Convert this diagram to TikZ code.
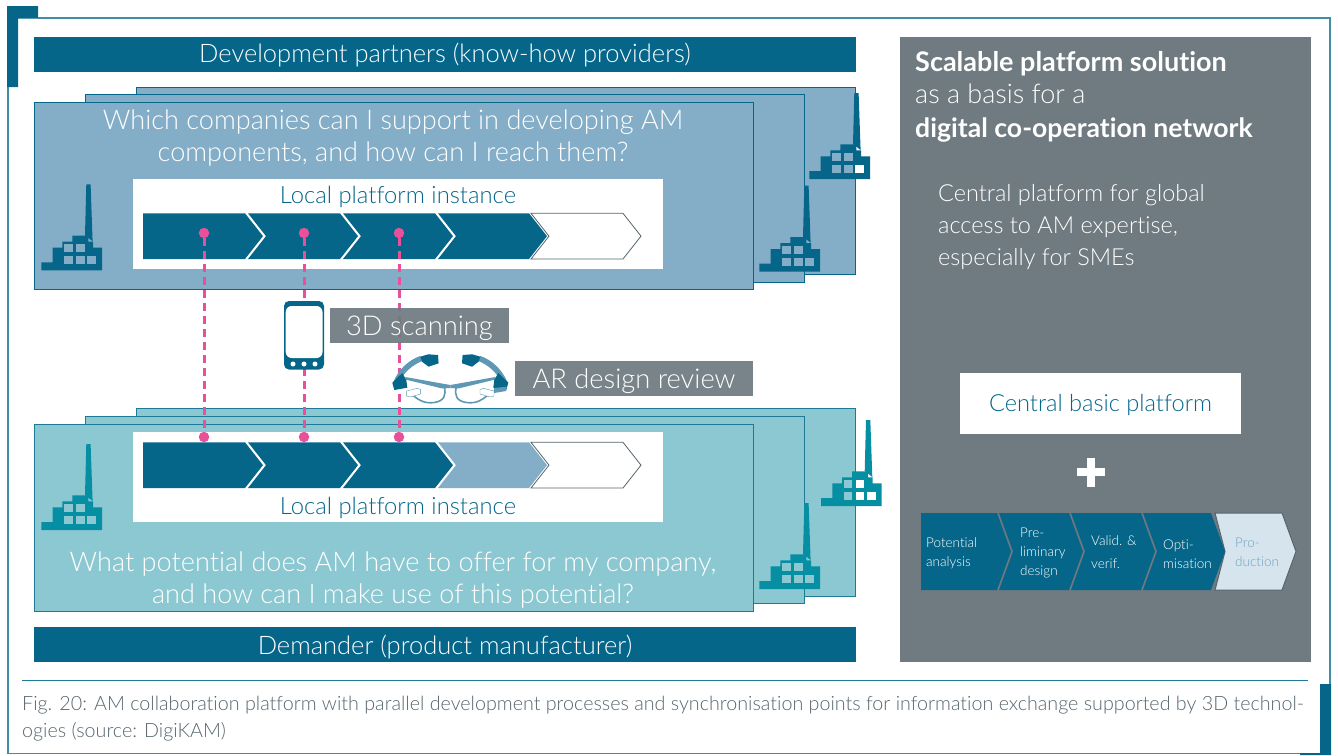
\documentclass[tikz,border=0pt]{standalone}
\usepackage{fontspec}
\setmainfont{Lato}[UprightFont=* Light, BoldFont=* Bold, Ligatures=NoCommon]
\usetikzlibrary{positioning}

\definecolor{darkblue}{HTML}{05668A}
\definecolor{lightblue}{HTML}{84AEC8}
\definecolor{paleblue}{HTML}{D6E4EE}
\definecolor{lightteal}{HTML}{8CC8D2}
\definecolor{darkteal}{HTML}{068EA3}
\definecolor{edgeteal}{HTML}{1E7A96}
\definecolor{panelgray}{HTML}{6F7A81}
\definecolor{syncpink}{HTML}{E9509A}
\definecolor{captiongray}{HTML}{56656D}

\newcommand{\chevrow}[4]{
  \foreach \xa/\xb/\nd/\sty in {#4} {
    \path[\sty] (\xa,#1) -- ({\xb-#3},#1) -- (\xb,{(#1+#2)/2}) -- ({\xb-#3},#2) -- (\xa,#2) -- ({\xa+\nd},{(#1+#2)/2}) -- cycle;
  }
}

\tikzset{
  bar/.style={fill=darkblue, text=white, minimum width=822, minimum height=35, inner sep=0, text height=18, text depth=1.6, font=\fontsize{25.5}{30}\selectfont},
  tag/.style={fill=panelgray, fill opacity=.93, text opacity=1, text=white, inner sep=0, minimum height=35, text height=20, text depth=0, font=\fontsize{27.3}{30}\selectfont},
  question/.style={text=white, align=center, inner sep=0, font=\fontsize{27.1}{32}\selectfont},
  localbox/.style={fill=white, minimum width=530, minimum height=90, inner sep=0},
  locallabel/.style={text=darkblue, inner sep=0, font=\fontsize{23.8}{25}\selectfont},
  sidetext/.style={text=white, inner sep=0, anchor=west, font=\fontsize{23.5}{26}\selectfont},
  sidehead/.style={text=white, inner sep=0, anchor=west, font=\fontsize{27}{30}\selectfont},
  steptext/.style={text=white, inner sep=0, anchor=west, align=left, font=\fontsize{13.5}{19}\selectfont},
  dot/.style={circle, fill=syncpink, minimum size=10.5, inner sep=0},
  syncline/.style={draw=syncpink, line width=3, dash pattern=on 7.5pt off 5.5pt},
  glassblue/.style={lightblue!70!darkblue},
  dark/.style={fill=darkblue},
  pale/.style={fill=lightblue},
  open/.style={fill=white, draw=captiongray, line width=.8},
  last/.style={fill=paleblue, draw=captiongray, line width=1},
  pics/factory/.style 2 args={code={
    \fill[#1] (45,-86) -- (49.3,-86) -- (51.3,-29) -- (43.7,-35) -- cycle;
    \fill[#1] (0,-8) -- (11.3,-8) -- (11.3,-22.7) -- (21,-22.7) -- (21,-28.7) -- (31,-28.7) -- (31,-34.7) -- (47,-34.7) -- (47,-28.7) -- (51.7,-28.7) -- (51.7,-22.7) -- (60.7,-22.7) -- (60.7,0) -- (0,0) -- cycle;
    \foreach \wx/\wy in {22.7/-26, 34.7/-26, 22.7/-14, 34.7/-14, 46/-14}
      \fill[#2] (\wx,\wy) rectangle ++(8.6,8);
  }},
  pics/whitewin/.style={code={
    \foreach \wx/\wy in {#1}
      \fill[white] (\wx,\wy) rectangle ++(8.6,8);
  }},
  pics/glassside/.style={code={
    \fill[glassblue] (-30,11) .. controls (-42,15) and (-52,25) .. (-57,37) -- (-51,37) .. controls (-46,27) and (-38,20) .. (-28,16) -- cycle;
    \fill[darkblue] (-30,11.7) -- (-22,9.3) -- (-12.3,10) -- (-11.7,18.3) -- (-21.7,21.7) -- (-28.3,16.7) -- cycle;
    \fill[glassblue] (-45,32) -- (0,40) -- (0,43) -- (-8,43.5) -- (-45,34.5) -- cycle;
    \draw[glassblue, line width=1.6] (-6,42) .. controls (-4,50) and (-6,56) .. (-16,57.5) .. controls (-26,59) and (-33,55) .. (-42,46);
    \fill[darkblue] (-48,28) -- (-58,37.7) -- (-56,45) -- (-43,42.7) -- (-44,35) -- cycle;
    \draw[glassblue, line width=.4, fill=white] (-43.7,46) -- (-33,43.3) -- (-29.7,44.5) -- (-29.7,49) -- (-40,52) -- (-43.7,51) -- cycle;
  }}
}

\begin{document}
\begin{tikzpicture}[x=1pt, y=-1pt]
      \useasboundingbox (0,0) rectangle (1338,755);

      % frame %
      \draw[edgeteal!85, line width=1.5] (8,87) -- (8,753.5) -- (1330,753.5) -- (1330,18) -- (38,18);
      \fill[darkblue] (7,6) -- (38,6) -- (38,18.5) -- (18,18.5) -- (18,87) -- (7,87) -- cycle;
      \fill[darkblue] (1320,684) -- (1331,684) -- (1331,755) -- (1300,755) -- (1300,753) -- (1320,753) -- cycle;

      % bars %
      \node[bar] (partners) at (445,54.5) {Development partners (know-how providers)};
      \node[bar, text height=20, text depth=.6] (demander) at (445,644.5) {Demander (product manufacturer)};

      % upper stack %
      \foreach \xa/\ya in {136/87, 85/94.5, 34/102}
        \draw[fill=lightblue, draw=darkblue, line width=1] (\xa,\ya) rectangle ++(719,187.5);
      \node[question] (askpartner) at (393,138.5) {Which companies can I support in developing AM\\components, and how can I reach them?};
      \node[localbox] (boxtop) at (398,224) {};
      \node[locallabel] (labeltop) at (398,197) {Local platform instance};
      \chevrow{213.3}{259}{18}{531/641/18/open, 438/547/18/dark, 343/453/18/dark, 248/358/18/dark, 143/263/0/dark}

      % lower stack %
      \foreach \xa/\ya in {136/408.5, 85/416, 34/424}
        \draw[fill=lightteal, draw=edgeteal, line width=1] (\xa,\ya) rectangle ++(719,187.5);
      \node[localbox] (boxlow) at (398,477) {};
      \node[locallabel] (labellow) at (398,508) {Local platform instance};
      \chevrow{442.3}{488}{18}{531/641/18/open, 438/547/18/pale, 343/453/18/dark, 248/358/18/dark, 143/263/0/dark}
      \node[question] (askmaker) at (393,580.5) {What potential does AM have to offer for my company,\\and how can I make use of this potential?};

      % factories %
      \pic at (41.3,270.3) {factory={darkblue}{lightblue}};
      \pic at (759.3,271.7) {factory={darkblue}{lightblue}};
      \pic at (809.3,179) {factory={darkblue}{lightblue}};
      \pic at (809.3,179) {whitewin={46/-14}};
      \pic at (41.3,530) {factory={darkteal}{lightteal}};
      \pic at (759.3,589) {factory={darkteal}{lightteal}};
      \pic at (821,506) {factory={darkteal}{lightteal}};
      \pic at (821,506) {whitewin={34.7/-26, 34.7/-14, 46/-14}};

      % sync points %
      \node[dot] (topa) at (204,233) {};
      \node[dot] (topb) at (304,233) {};
      \node[dot] (topc) at (399,233) {};
      \node[dot] (lowa) at (204,437) {};
      \node[dot] (lowb) at (304,437) {};
      \node[dot] (lowc) at (399,437) {};

      % edges %
      \draw[syncline] (topa) -- (lowa);
      \draw[syncline] (topb) -- (lowb);
      \draw[syncline] (topc) -- (lowc);

      % tools %
      \node[tag, minimum width=179] (scan) at (419.5,325.5) {3D scanning};
      \node[tag, minimum width=238] (review) at (634,378.5) {AR design review};
      \fill[darkblue, rounded corners=5] (284,301) rectangle (324,369.5);
      \fill[white, rounded corners=6] (285.7,306) rectangle (322.5,358);
      \foreach \bx in {293,304,315}
        \fill[white] (\bx,364) circle (2.5);
      \pic at (450.3,345) {glassside};
      \pic[xscale=-1] at (450.3,345) {glassside};
      \fill[glassblue] (494,388) -- (506.7,386.7) -- (506,391) -- (494,393) -- cycle;

      % platform panel %
      \fill[panelgray] (900,37) rectangle (1311,662);
      \node[sidehead] (head) at (915,64) {\textbf{Scalable platform solution}};
      \node[sidehead, below=30pt of head.west, anchor=west] (headb) {as a basis for a};
      \node[sidehead, below=36pt of headb.west, anchor=west, font=\fontsize{26.6}{30}\selectfont] (headc) {\textbf{digital co-operation network}};
      \node[sidetext] (central) at (938,195) {Central platform for global};
      \node[sidetext, below=32pt of central.west, anchor=west] (centralb) {access to AM expertise,};
      \node[sidetext, below=32pt of centralb.west, anchor=west] (centralc) {especially for SMEs};
      \node[fill=white, text=darkblue, minimum width=281, minimum height=61, inner sep=0, text height=18, text depth=2.5, font=\fontsize{23.6}{26}\selectfont] (basic) at (1100.5,403.5) {Central basic platform};
      \fill[white] (1077,468) rectangle (1105,476);
      \fill[white] (1087,458) rectangle (1095,487);

      % process steps %
      \chevrow{513}{590}{14}{1215/1296/10/last, 1143/1225/14/dark, 1071/1155/14/dark, 999/1083/14/dark, 921/1011/0/dark}
      \node[steptext] (stepa) at (926,553.5) {Potential\\analysis};
      \node[steptext] (stepb) at (1020,552.5) {Pre-\\liminary\\design};
      \node[steptext] (stepc) at (1091,552.5) {Valid. \&\\[4pt]verif.};
      \node[steptext] (stepd) at (1163,554) {Opti-\\misation};
      \node[steptext, text=lightblue!85!darkblue] (stepe) at (1235,552.5) {Pro-\\duction};

      % caption %
      \draw[edgeteal, line width=1] (22,680.5) -- (1308,680.5);
      \node[inner sep=0, anchor=west, text=captiongray, align=left, font=\fontsize{19.7}{27}\selectfont] (caption) at (22,719) {Fig. 20: AM collaboration platform with parallel development processes and synchronisation points for information exchange supported by 3D technol-\\ogies (source: DigiKAM)};
\end{tikzpicture}
\end{document}
